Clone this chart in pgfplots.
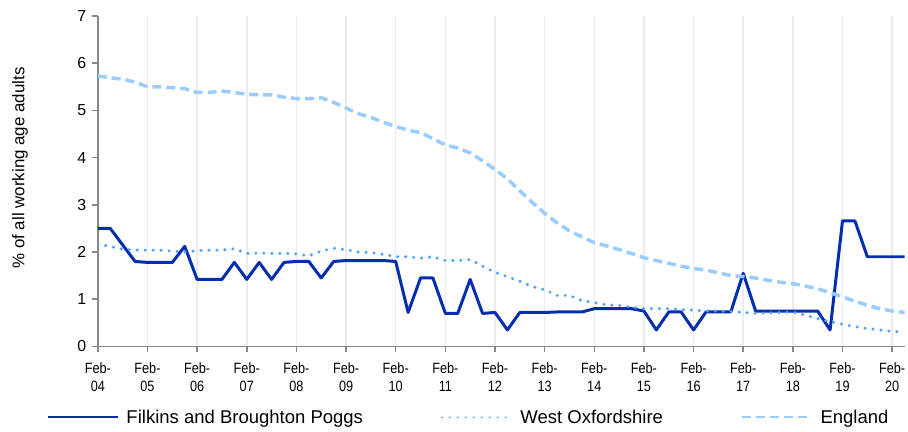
\documentclass[border=0pt]{standalone}
\usepackage{fontspec}
\setmainfont{Liberation Sans}
\usepackage{pgfplots}
\pgfplotsset{compat=1.18}
\usepackage{pgfplotstable}
\definecolor{filk}{RGB}{5,45,175}
\definecolor{woxon}{RGB}{77,163,255}
\definecolor{engl}{RGB}{153,204,255}
\definecolor{axgray}{RGB}{136,136,136}
\definecolor{gridgray}{RGB}{236,236,236}
\pgfplotstableread{
q filk wox eng
0 2.50 2.17 5.73
1 2.50 2.12 5.69
2 2.15 2.06 5.66
3 1.80 2.04 5.60
4 1.78 2.04 5.50
5 1.78 2.04 5.50
6 1.78 2.02 5.48
7 2.12 2.00 5.46
8 1.42 2.03 5.38
9 1.42 2.04 5.38
10 1.42 2.04 5.41
11 1.78 2.07 5.38
12 1.42 1.97 5.34
13 1.78 1.98 5.33
14 1.42 1.97 5.33
15 1.78 1.97 5.28
16 1.80 1.96 5.25
17 1.80 1.92 5.25
18 1.45 2.02 5.27
19 1.80 2.08 5.17
20 1.82 2.05 5.05
21 1.82 2.00 4.93
22 1.82 1.99 4.85
23 1.82 1.95 4.75
24 1.80 1.90 4.66
25 0.72 1.90 4.58
26 1.45 1.87 4.53
27 1.45 1.90 4.40
28 0.70 1.82 4.27
29 0.70 1.82 4.20
30 1.42 1.84 4.10
31 0.70 1.70 3.93
32 0.72 1.57 3.75
33 0.35 1.48 3.55
34 0.72 1.38 3.30
35 0.72 1.27 3.05
36 0.72 1.20 2.82
37 0.73 1.08 2.62
38 0.73 1.08 2.45
39 0.73 0.97 2.32
40 0.80 0.93 2.20
41 0.80 0.88 2.13
42 0.80 0.87 2.05
43 0.80 0.83 1.97
44 0.75 0.80 1.88
45 0.35 0.80 1.82
46 0.73 0.80 1.76
47 0.73 0.78 1.70
48 0.35 0.77 1.65
49 0.73 0.75 1.62
50 0.73 0.75 1.56
51 0.73 0.74 1.50
52 1.55 0.72 1.48
53 0.75 0.70 1.45
54 0.75 0.71 1.40
55 0.75 0.72 1.36
56 0.75 0.73 1.33
57 0.75 0.66 1.28
58 0.75 0.59 1.22
59 0.35 0.53 1.14
60 2.66 0.47 1.05
61 2.66 0.42 0.96
62 1.90 0.38 0.87
63 1.90 0.35 0.80
64 1.90 0.32 0.75
65 1.90 0.30 0.72
}\datatable
\begin{document}
\begin{tikzpicture}
\begin{axis}[
  at={(0,0)}, anchor=south west,
  scale only axis, width=808bp, height=331bp,
  xmin=0, xmax=65, ymin=0, ymax=7,
  axis lines*=left,
  axis line style={axgray, line width=1.8bp},
  xtick={0,4,...,64},
  xticklabels={{Feb-\\04},{Feb-\\05},{Feb-\\06},{Feb-\\07},{Feb-\\08},{Feb-\\09},{Feb-\\10},{Feb-\\11},{Feb-\\12},{Feb-\\13},{Feb-\\14},{Feb-\\15},{Feb-\\16},{Feb-\\17},{Feb-\\18},{Feb-\\19},{Feb-\\20}},
  ytick={0,1,...,7},
  tick align=outside, major tick length=6bp,
  tick style={axgray, line width=1.5bp},
  xmajorgrids, grid style={gridgray, line width=1.5bp},
  xticklabel style={font=\fontsize{15}{18}\selectfont, align=center, xscale=0.85, yshift=-7bp},
  yticklabel style={font=\fontsize{16}{18}\selectfont, xshift=-2bp},
  /pgf/number format/assume math mode=true,
  ylabel={\% of all working age adults},
  ylabel style={font=\fontsize{17}{19}\selectfont, at={(axis description cs:-0.0965,0.54)}, anchor=center},
  legend style={at={(axis description cs:-0.0668,-0.2145)}, anchor=west, draw=none, fill=none,
    font=\fontsize{18.6}{20}\selectfont,
    /tikz/every even column/.append style={column sep=76bp}},
  legend columns=3,
  legend image code/.code={\draw[#1,line width=2bp] (0bp,0bp) -- (70bp,0bp); \path (75bp,0bp);},
]
\addplot[filk, line width=3bp, line join=round] table[x=q, y=filk] {\datatable};
\addlegendentry{Filkins and Broughton Poggs}
\addplot[woxon, line width=3.4bp, line cap=round, dash pattern=on 0bp off 8bp] table[x=q, y=wox] {\datatable};
\addlegendentry{West Oxfordshire}
\addplot[engl, line width=3.5bp, dash pattern=on 9bp off 5bp] table[x=q, y=eng] {\datatable};
\addlegendentry{England}
\end{axis}
\path[use as bounding box] (-98bp,-85bp) rectangle (810bp,347bp);
\end{tikzpicture}
\end{document}
